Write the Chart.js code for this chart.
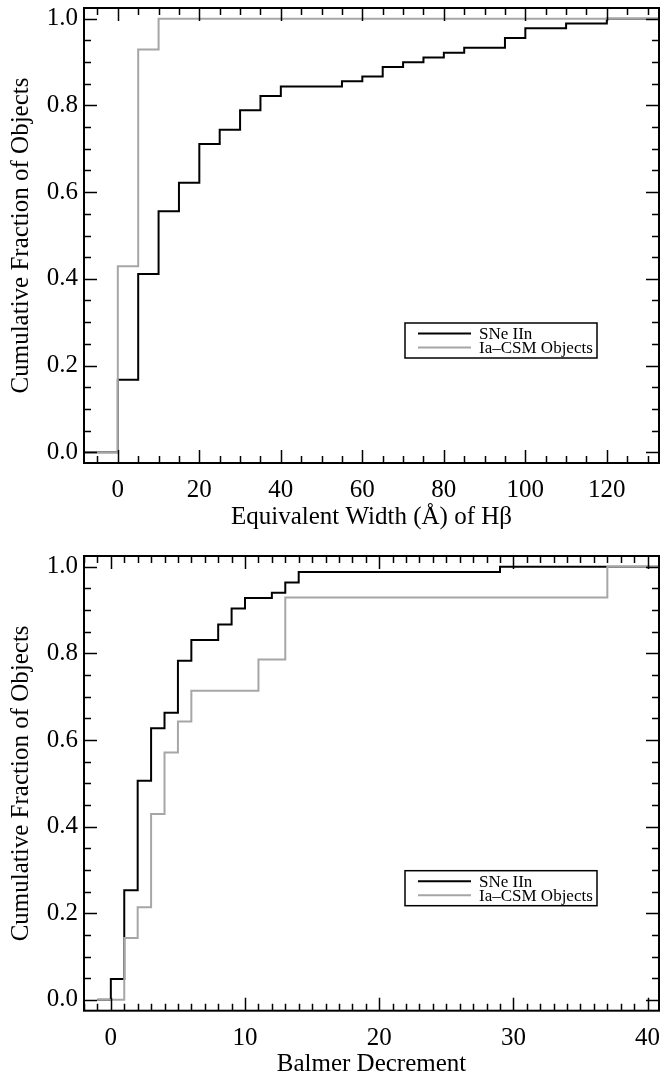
<!DOCTYPE html>
<html>
<head>
<meta charset="utf-8">
<script src="https://cdn.jsdelivr.net/npm/chart.js@4.4.1/dist/chart.umd.min.js"></script>
<style>
  html, body { margin: 0; padding: 0; background: #fff; overflow: hidden; }
  #wrap { position: relative; width: 660px; height: 1074px; overflow: hidden; }
  canvas { position: absolute; left: 0; }
  #ewChart { top: 0; }
  #bdChart { top: 537px; }
</style>
</head>
<body>
<div id="wrap">
  <canvas id="ewChart" width="660" height="537"></canvas>
  <canvas id="bdChart" width="660" height="540"></canvas>
</div>
<script>
// Equivalent width of Hbeta: step positions (Å) and cumulative fractions
const ewSneX = [-10, 0, 5, 10, 15, 20, 25, 30, 35, 40, 55, 60, 65, 70, 75, 80, 85, 95, 100, 110, 120, 140];
const ewSneY = [0, 0.167, 0.411, 0.556, 0.622, 0.711, 0.744, 0.789, 0.822, 0.844, 0.856, 0.867, 0.889, 0.900, 0.911, 0.922, 0.933, 0.956, 0.978, 0.989, 1.0, 1.0];
const ewIaX = [-10, 0, 5, 10, 140];
const ewIaY = [0, 0.429, 0.929, 1.0, 1.0];

// Balmer decrement
const bdSneX = [-1, 0, 1, 2, 3, 4, 5, 6, 8, 9, 10, 12, 13, 14, 29, 45];
const bdSneY = [0, 0.048, 0.253, 0.506, 0.627, 0.663, 0.783, 0.831, 0.867, 0.904, 0.928, 0.940, 0.964, 0.988, 1.0, 1.0];
const bdIaX = [-1, 1, 2, 3, 4, 5, 6, 11, 13, 37, 45];
const bdIaY = [0, 0.143, 0.214, 0.429, 0.571, 0.643, 0.714, 0.786, 0.929, 1.0, 1.0];

const ewTicks = [0, 20, 40, 60, 80, 100, 120];
const bdTicks = [0, 10, 20, 30, 40];
const fracTicks = [0, 0.2, 0.4, 0.6, 0.8, 1.0];
const seriesNames = ['SNe IIn', 'Ia\u2013CSM Objects'];

const SERIF = "'Liberation Serif', 'Times New Roman', serif";
Chart.defaults.font.family = SERIF;
Chart.defaults.color = '#000';

function pts(xs, ys) { return xs.map((x, i) => ({ x: x, y: ys[i] })); }

// box, inward ticks on all four sides
const framePlugin = {
  id: 'frame',
  afterDatasetsDraw(chart, args, opts) {
    const { ctx, chartArea: a, scales: { x, y } } = chart;
    ctx.save();
    ctx.strokeStyle = '#000';
    ctx.lineWidth = 1.5;
    ctx.beginPath();
    const tick = (scale, step, len) => {
      const start = Math.ceil(scale.min / step - 1e-9) * step;
      for (let v = start; v <= scale.max + 1e-9; v += step) {
        const p = Math.round(scale.getPixelForValue(v)) + 0.5;
        if (scale === x) {
          ctx.moveTo(p, a.bottom); ctx.lineTo(p, a.bottom - len);
          ctx.moveTo(p, a.top); ctx.lineTo(p, a.top + len);
        } else {
          ctx.moveTo(a.left, p); ctx.lineTo(a.left + len, p);
          ctx.moveTo(a.right, p); ctx.lineTo(a.right - len, p);
        }
      }
    };
    tick(x, opts.xMinor, 7);
    tick(x, opts.xMajor, 13);
    tick(y, 0.05, 7);
    tick(y, 0.2, 13);
    ctx.stroke();
    ctx.lineWidth = 2;
    ctx.strokeRect(a.left, a.top, a.right - a.left, a.bottom - a.top);
    ctx.restore();
  }
};

// boxed legend inside the plot
const boxLegend = {
  id: 'boxLegend',
  afterDraw(chart, args, opts) {
    const { ctx, chartArea: a } = chart;
    const w = 192, h = 35;
    const bx = a.right - opts.right - w, by = a.bottom - opts.bottom - h;
    ctx.save();
    ctx.fillStyle = '#fff';
    ctx.fillRect(bx, by, w, h);
    ctx.strokeStyle = '#000';
    ctx.lineWidth = 1.5;
    ctx.strokeRect(bx, by, w, h);
    ctx.font = '17px ' + SERIF;
    ctx.textBaseline = 'middle';
    ctx.fillStyle = '#000';
    chart.data.datasets.forEach((ds, i) => {
      const yy = by + h / 2 + (i === 0 ? -7 : 7);
      ctx.strokeStyle = ds.borderColor;
      ctx.lineWidth = ds.borderWidth;
      ctx.beginPath();
      ctx.moveTo(bx + 13, yy); ctx.lineTo(bx + 66, yy);
      ctx.stroke();
      ctx.fillText(ds.label, bx + 74, yy + 1);
    });
    ctx.restore();
  }
};

function makeChart(id, cfg) {
  return new Chart(document.getElementById(id), {
    type: 'line',
    data: {
      datasets: [
        { label: seriesNames[0], data: cfg.sne, borderColor: '#000', borderWidth: 2, stepped: 'before', pointRadius: 0, order: 1 },
        { label: seriesNames[1], data: cfg.ia, borderColor: '#a6a6a6', borderWidth: 2, stepped: 'before', pointRadius: 0, order: 0 }
      ]
    },
    options: {
      responsive: false,
      animation: false,
      layout: { padding: { top: cfg.padTop, right: 1, left: 0, bottom: 0 } },
      plugins: {
        legend: { display: false },
        tooltip: { enabled: false },
        frame: { xMinor: cfg.xMinor, xMajor: cfg.xMajor },
        boxLegend: { right: 62, bottom: 105 }
      },
      scales: {
        x: {
          type: 'linear',
          min: cfg.xMin, max: cfg.xMax,
          grid: { display: false, drawTicks: false },
          border: { display: false },
          afterBuildTicks: s => { s.ticks = cfg.xTicks.map(v => ({ value: v })); },
          afterFit: s => { s.height = cfg.xHeight; s.paddingLeft = 0; s.paddingRight = 0; },
          ticks: { font: { size: 25, lineHeight: 1 }, padding: 15, maxRotation: 0, autoSkip: false },
          title: { display: true, text: cfg.xTitle, font: { size: 25, lineHeight: 1 }, padding: { top: 0, bottom: cfg.titlePad } }
        },
        y: {
          type: 'linear',
          min: -0.025, max: 1.025,
          grid: { display: false, drawTicks: false },
          border: { display: false },
          afterBuildTicks: s => { s.ticks = fracTicks.map(v => ({ value: v })); },
          afterFit: s => { s.width = 84; s.paddingTop = 0; s.paddingBottom = 0; },
          ticks: { font: { size: 25, lineHeight: 1 }, padding: 6, callback: v => v.toFixed(1) },
          title: { display: true, text: 'Cumulative Fraction of Objects', font: { size: 25, lineHeight: 1 }, padding: { top: 9, bottom: 0 } }
        }
      }
    },
    plugins: [framePlugin, boxLegend]
  });
}

makeChart('ewChart', {
  sne: pts(ewSneX, ewSneY), ia: pts(ewIaX, ewIaY),
  xMin: -8.3, xMax: 132.8, xTicks: ewTicks, xMinor: 5, xMajor: 20,
  xTitle: 'Equivalent Width (\u00c5) of H\u03b2',
  padTop: 8, xHeight: 74, titlePad: 7.5
});

makeChart('bdChart', {
  sne: pts(bdSneX, bdSneY), ia: pts(bdIaX, bdIaY),
  xMin: -2, xMax: 40.85, xTicks: bdTicks, xMinor: 1, xMajor: 10,
  xTitle: 'Balmer Decrement',
  padTop: 19, xHeight: 66.3, titlePad: 0.5
});
</script>
</body>
</html>
